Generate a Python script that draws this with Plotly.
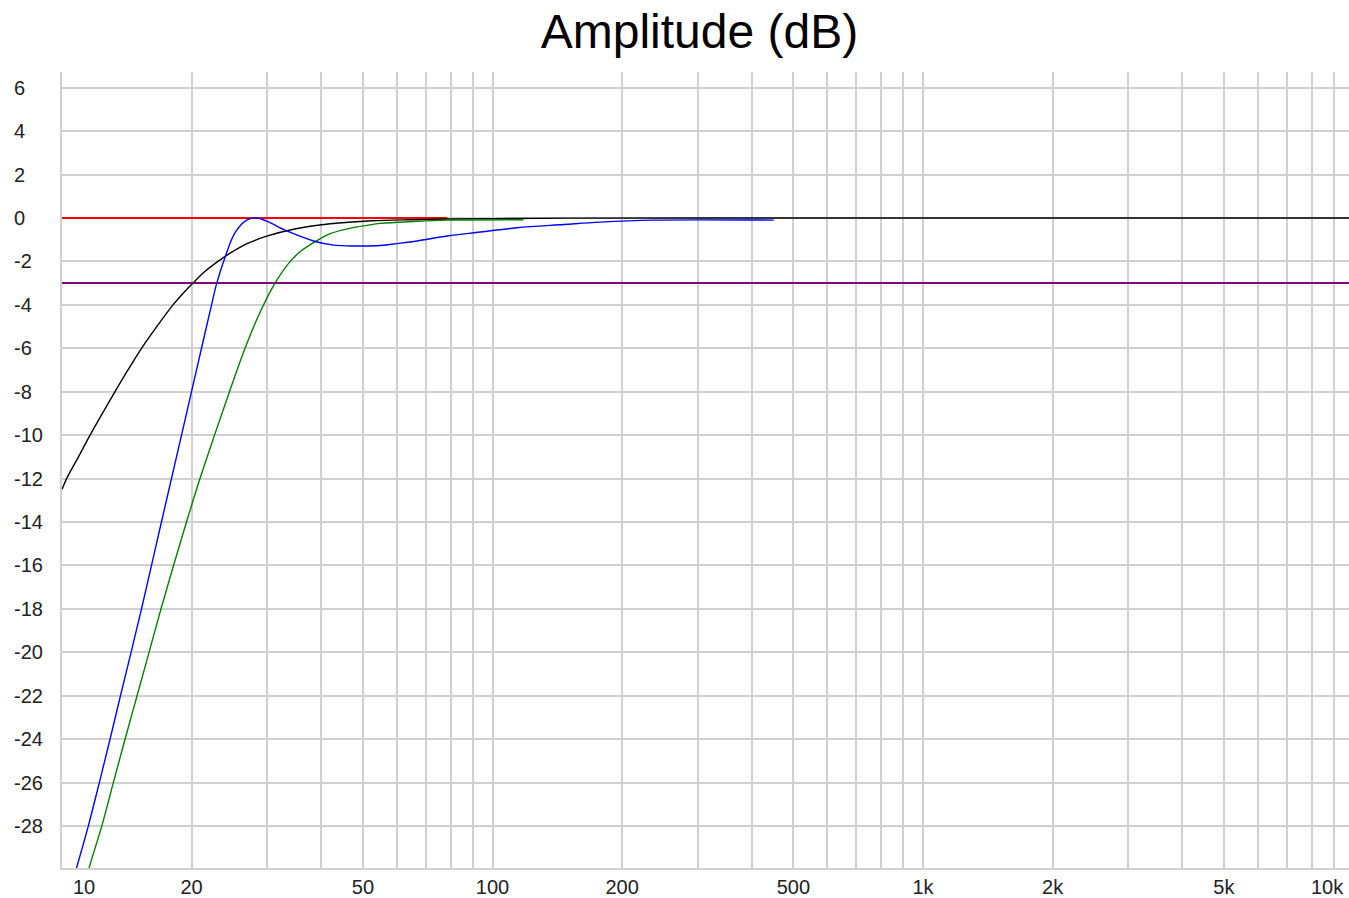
import plotly.graph_objects as go

# frequency (Hz) / level (dB)
black_freq = [10.0, 10.25, 10.92, 11.62, 13.28, 14.23, 15.3, 16.6, 18.11, 19.05, 20.15, 21.37,
              23.03, 24.9, 26.9, 29.9, 34.5, 42.0, 52.6, 65.0, 78.5, 100, 150, 300, 1000, 9800]
black_db = [-12.5, -12.0, -11.0, -10.0, -8.0, -7.0, -6.0, -5.0, -4.0, -3.5, -3.0, -2.5,
            -2.0, -1.55, -1.18, -0.84, -0.52, -0.27, -0.13, -0.08, -0.05, -0.03, -0.01, 0.0,
            0.0, 0.0]

blue_freq = [10.0, 10.82, 11.51, 12.21, 12.93, 13.67, 14.47, 15.30, 16.14, 17.02, 17.96, 18.95,
             19.99, 21.09, 22.25, 22.88, 23.91, 25.23, 26.85, 28.34, 29.9, 33.3, 38.4, 42.7,
             48.0, 54.9, 60.0, 66.8, 78.5, 93.8, 114, 146.5, 178, 237, 450]
blue_db = [-32.3, -29.9, -28.0, -26.0, -24.0, -22.0, -20.0, -18.0, -16.0, -14.0, -12.0, -10.0,
           -8.0, -6.0, -4.0, -3.0, -1.82, -0.68, -0.1, 0.0, -0.15, -0.6, -1.06, -1.25,
           -1.29, -1.27, -1.18, -1.06, -0.83, -0.65, -0.45, -0.3, -0.19, -0.1, -0.1]

green_freq = [11.2, 11.57, 12.37, 13.16, 14.01, 14.94, 15.93, 16.98, 18.16, 19.46, 20.92, 22.61,
              24.49, 26.62, 28.6, 31.25, 33.9, 36.0, 38.36, 42.0, 46.8, 51.1, 54.9, 65.6, 78.5,
              118]
green_db = [-31.0, -29.9, -28.0, -26.0, -24.0, -22.0, -20.0, -18.0, -16.0, -14.0, -12.0, -10.0,
            -8.0, -6.0, -4.5, -3.0, -2.0, -1.5, -1.14, -0.72, -0.47, -0.34, -0.25, -0.16, -0.1,
            -0.08]

red_freq = [10, 78.5]
red_db = [0, 0]

purple_freq = [10, 9800]
purple_db = [-3, -3]

grid_freqs = [10, 20, 30, 40, 50, 60, 70, 80, 90,
              100, 200, 300, 400, 500, 600, 700, 800, 900,
              1000, 2000, 3000, 4000, 5000, 6000, 7000, 8000, 9000]
x_labels = {20: "20", 50: "50", 100: "100", 200: "200", 500: "500",
            1000: "1k", 2000: "2k", 5000: "5k"}
y_ticks = [6, 4, 2, 0, -2, -4, -6, -8, -10, -12, -14, -16, -18, -20, -22, -24, -26, -28]

FONT = "Liberation Sans, Arial, sans-serif"
GRID = "#d0d0d0"
LABEL = "#222"

fig = go.Figure()

fig.add_trace(go.Scatter(x=red_freq, y=red_db, mode="lines",
                         line=dict(color="#ff0000", width=2)))
fig.add_trace(go.Scatter(x=purple_freq, y=purple_db, mode="lines",
                         line=dict(color="#800080", width=2)))
fig.add_trace(go.Scatter(x=black_freq, y=black_db, mode="lines",
                         line=dict(color="#000000", width=1.4, shape="spline", smoothing=1.0)))
fig.add_trace(go.Scatter(x=green_freq, y=green_db, mode="lines",
                         line=dict(color="#008000", width=1.4, shape="spline", smoothing=1.0)))
fig.add_trace(go.Scatter(x=blue_freq, y=blue_db, mode="lines",
                         line=dict(color="#0000ff", width=1.4, shape="spline", smoothing=1.0)))

# y labels sit left-aligned in the reference, so they are placed as annotations
annotations = []
for v in y_ticks:
    annotations.append(dict(x=0, xref="paper", y=v, yref="y", text=str(v),
                            xanchor="left", yanchor="middle", xshift=-50,
                            showarrow=False, font=dict(family=FONT, size=20, color=LABEL)))
annotations.append(dict(x=1, xref="x", y=0, yref="paper", text="10",
                        xanchor="left", yanchor="top", xshift=9, yshift=-6,
                        showarrow=False, font=dict(family=FONT, size=20, color=LABEL)))
annotations.append(dict(x=1, xref="paper", y=0, yref="paper", text="10k",
                        xanchor="right", yanchor="top", xshift=-3, yshift=-6,
                        showarrow=False, font=dict(family=FONT, size=20, color=LABEL)))

fig.update_layout(
    width=1349,
    height=898,
    margin=dict(l=62, r=0, t=72, b=27),
    plot_bgcolor="white",
    paper_bgcolor="white",
    showlegend=False,
    title=dict(text="Amplitude (dB)", x=0.4953, xref="paper", y=1 - 31 / 898,
               yref="container", xanchor="center", yanchor="middle",
               font=dict(family=FONT, size=48, color="black")),
    annotations=annotations,
)

fig.update_xaxes(
    type="log",
    range=[1, 1 + 1287 / 430.5],
    tickvals=grid_freqs,
    ticktext=[x_labels.get(f, "") for f in grid_freqs],
    ticks="",
    tickfont=dict(family=FONT, size=20, color=LABEL),
    showgrid=True, gridcolor=GRID, gridwidth=2,
    showline=True, linecolor=GRID, linewidth=2,
    zeroline=False,
)
fig.update_yaxes(
    range=[-29.93, 6.72],
    tickvals=y_ticks,
    showticklabels=False,
    ticks="",
    showgrid=True, gridcolor=GRID, gridwidth=2,
    showline=True, linecolor=GRID, linewidth=2,
    zeroline=False,
)

fig.write_html(
    "out.html",
    config={"displayModeBar": False},
    post_script="document.body.style.margin='0';document.body.style.overflow='hidden';",
)
